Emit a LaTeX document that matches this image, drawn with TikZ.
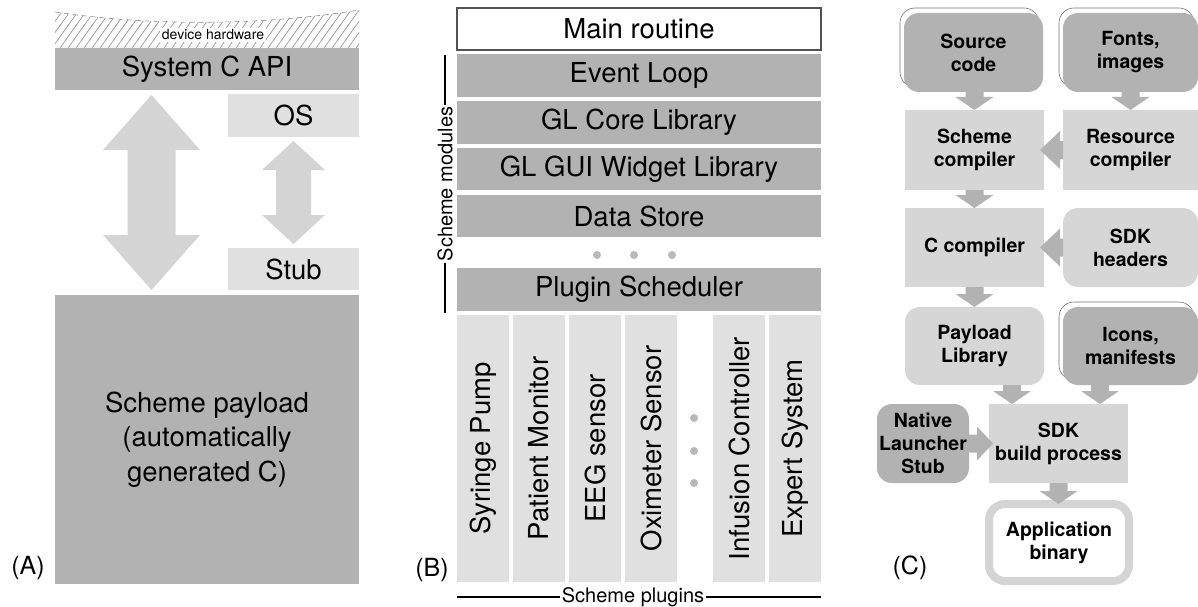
\documentclass[tikz,border=0pt]{standalone}
\usepackage{fontspec}
\setmainfont{TeX Gyre Heros}
\usetikzlibrary{calc,shadows}
\definecolor{dk}{gray}{0.70}
\definecolor{lt}{gray}{0.88}
\definecolor{ltc}{gray}{0.84}
\definecolor{arA}{gray}{0.83}
\definecolor{arC}{gray}{0.70}
\definecolor{hatchc}{gray}{0.55}
\definecolor{appb}{gray}{0.83}
\definecolor{outl}{gray}{0.45}
\definecolor{mainb}{gray}{0.32}

% double block arrow: #1 x, #2 top node, #3 bottom node, #4 gap, #5 head half, #6 head length, #7 shaft half
\newcommand{\dblarr}[7]{%
\fill[arA] let \p1=(#2.south), \p2=(#3.north) in
 (#1pt,\y1-#4pt) -- (#1pt+#5pt,\y1-#4pt-#6pt) -- (#1pt+#7pt,\y1-#4pt-#6pt)
 -- (#1pt+#7pt,\y2+#4pt+#6pt) -- (#1pt+#5pt,\y2+#4pt+#6pt) -- (#1pt,\y2+#4pt)
 -- (#1pt-#5pt,\y2+#4pt+#6pt) -- (#1pt-#7pt,\y2+#4pt+#6pt)
 -- (#1pt-#7pt,\y1-#4pt-#6pt) -- (#1pt-#5pt,\y1-#4pt-#6pt) -- cycle;}
% down block arrow: #1 x, #2 source, #3 target
\newcommand{\cdown}[3]{%
\fill[arC] let \p1=(#2.south), \p2=(#3.north) in
 (#1pt-9pt,\y1) -- (#1pt+9pt,\y1) -- (#1pt+9pt,\y2+13pt) -- (#1pt+19pt,\y2+13pt)
 -- (#1pt,\y2) -- (#1pt-19pt,\y2+13pt) -- (#1pt-9pt,\y2+13pt) -- cycle;}
% left block arrow: #1 source (right), #2 target (left)
\newcommand{\cleft}[2]{%
\fill[arC] let \p1=(#1.west), \p2=(#2.east) in
 (\x1,\y1+9pt) -- (\x2+16pt,\y1+9pt) -- (\x2+16pt,\y1+19pt) -- (\x2-4pt,\y1)
 -- (\x2+16pt,\y1-19pt) -- (\x2+16pt,\y1-9pt) -- (\x1,\y1-9pt) -- cycle;}
% right block arrow: #1 source (left), #2 target (right)
\newcommand{\cright}[2]{%
\fill[arC] let \p1=(#1.east), \p2=(#2.west) in
 (\x1,\y1+9pt) -- (\x2-12pt,\y1+9pt) -- (\x2-12pt,\y1+17pt) -- (\x2+4pt,\y1)
 -- (\x2-12pt,\y1-17pt) -- (\x2-12pt,\y1-9pt) -- (\x1,\y1-9pt) -- cycle;}

\begin{document}
\begin{tikzpicture}[x=1pt,y=-1pt,
  every node/.style={inner sep=0pt, outer sep=0pt},
  big/.style={font=\fontsize{27.5}{34.5}\selectfont},
  dkbox/.style={big, fill=dk, anchor=north west, align=center},
  ltbox/.style={big, fill=lt, anchor=north west, align=center},
  mainbox/.style={big, fill=white, draw=mainb, line width=1.5pt, anchor=north west},
  cfont/.style={font=\bfseries\fontsize{19.5}{23}\selectfont, align=center},
  cdark/.style={cfont, fill=dk, rounded corners=15pt, anchor=north west},
  cdarks/.style={cdark, copy shadow={shadow xshift=-4pt, shadow yshift=5pt, fill=white, draw=outl, line width=0.6pt}},
  clight/.style={cfont, fill=ltc, anchor=north west},
  clightr/.style={clight, rounded corners=15pt},
  plug/.style={big, fill=lt, anchor=north west, minimum width=52, minimum height=267},
  dotc/.style={fill=gray!55},
  small/.style={font=\fontsize{20}{24}\selectfont},
  lbl/.style={font=\fontsize{25}{30}\selectfont}
]
\useasboundingbox (0,0) rectangle (1198,607);

% ---------------- Panel A ----------------
\begin{scope}
\clip (55,12) .. controls (150,26) and (260,26) .. (359,10) -- (359,48) -- (55,48) -- cycle;
\foreach \i in {0,8,...,340} \draw[hatchc, line width=0.6pt] (\i+20,48) -- ++(30,-42);
\end{scope}
\draw[hatchc, line width=0.6pt, dash pattern=on 5pt off 4pt] (55,12) .. controls (150,26) and (260,26) .. (359,10);
\node[fill=white, inner sep=1.5pt, font=\fontsize{14}{16}\selectfont] (hw) at (213,35) {device hardware};

\node[dkbox, minimum width=304, minimum height=42] (api) at (55,48) {System C API};
\node[ltbox, minimum width=131, minimum height=43] (os) at (228,94) {OS};
\node[ltbox, minimum width=131, minimum height=42] (stub) at (228,248) {Stub};
\node[dkbox, minimum width=304, minimum height=289] (payload) at (55,295) {Scheme payload\\(automatically\\generated C)};
\node[lbl] (lA) at (28,568) {(A)};

\dblarr{151.5}{api}{payload}{5}{48.5}{55}{24}
\dblarr{293.5}{os}{stub}{4}{31.5}{29}{17.5}

% ---------------- Panel B ----------------
\node[mainbox, minimum width=364, minimum height=42] (main) at (457,8) {Main routine};
\node[dkbox, minimum width=364, minimum height=43] (ev) at (457,54) {Event Loop};
\node[dkbox, minimum width=364, minimum height=43] (core) at (457,101) {GL Core Library};
\node[dkbox, minimum width=364, minimum height=42] (gui) at (457,148) {GL GUI Widget Library};
\node[dkbox, minimum width=364, minimum height=42] (ds) at (457,195) {Data Store};
\node[dkbox, minimum width=364, minimum height=43] (ps) at (457,268) {Plugin Scheduler};
\fill[dotc] (597,255) circle (4) (634,255) circle (4) (672,255) circle (4);

\node[plug] (p1) at (457,315) {\rotatebox{90}{Syringe Pump}};
\node[plug] (p2) at (513,315) {\rotatebox{90}{Patient Monitor}};
\node[plug] (p3) at (569,315) {\rotatebox{90}{EEG sensor}};
\node[plug] (p4) at (625,315) {\rotatebox{90}{Oximeter Sensor}};
\node[plug] (p5) at (713,315) {\rotatebox{90}{Infusion Controller}};
\node[plug] (p6) at (769,315) {\rotatebox{90}{Expert System}};
\fill[dotc] (694,418) circle (4) (694,451) circle (4) (694,483) circle (4);

\coordinate (smt) at (445,55);
\coordinate (smb) at (445,313);
\draw[line width=1.4pt] (smt) -- (smb);
\node[small, fill=white, inner sep=2pt, rotate=90] (sml) at (445,184) {Scheme modules};

\coordinate (spl) at (457,597);
\coordinate (spr) at (821,597);
\draw[line width=1.4pt] (spl) -- (spr);
\node[small, fill=white, inner sep=2pt] (spt) at (633,597) {Scheme plugins};
\node[lbl] (lB) at (432,570) {(B)};

% ---------------- Panel C ----------------
\node[cdarks, minimum width=139, minimum height=79] (src) at (904,13) {Source\\code};
\node[cdarks, minimum width=135, minimum height=79] (fonts) at (1063,13) {Fonts,\\images};
\node[clight, minimum width=139, minimum height=80] (schc) at (905,110) {Scheme\\compiler};
\node[clight, minimum width=135, minimum height=80] (resc) at (1063,110) {Resource\\compiler};
\node[clight, minimum width=139, minimum height=79] (cc) at (905,208) {C compiler};
\node[clightr, minimum width=135, minimum height=79] (sdkh) at (1063,208) {SDK\\headers};
\node[clightr, minimum width=139, minimum height=78] (payl) at (905,307) {Payload\\Library};
\node[cdarks, minimum width=135, minimum height=78] (icons) at (1063,307) {Icons,\\manifests};
\node[cdark, minimum width=92, minimum height=79] (native) at (877,404) {Native\\Launcher\\Stub};
\node[clight, minimum width=139, minimum height=79] (sdkb) at (989,404) {SDK\\build process};
\node[cfont, draw=appb, line width=8pt, fill=white, rounded corners=16pt, minimum width=140, minimum height=77, anchor=north west] (app) at (989,504) {Application\\binary};
\node[lbl] (lC) at (910,568) {(C)};

\cdown{974.5}{src}{schc}
\cdown{1130.5}{fonts}{resc}
\cleft{resc}{schc}
\cdown{974.5}{schc}{cc}
\cleft{sdkh}{cc}
\cdown{974.5}{cc}{payl}
\cdown{1012}{payl}{sdkb}
\cdown{1100}{icons}{sdkb}
\cright{native}{sdkb}
\cdown{1058.5}{sdkb}{app}
\end{tikzpicture}
\end{document}
